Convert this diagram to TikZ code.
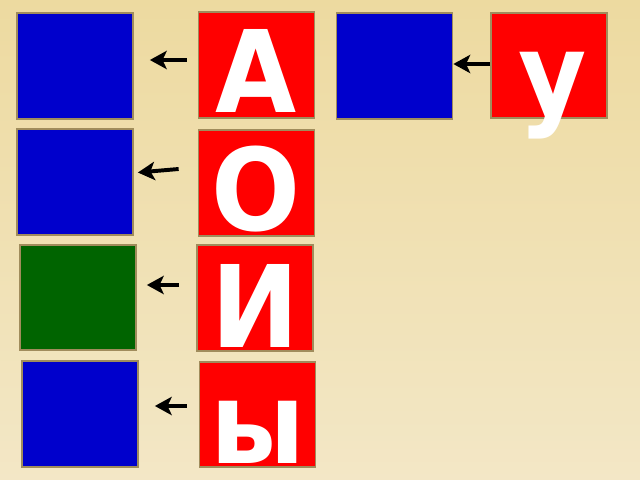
\documentclass[tikz,border=0pt]{standalone}
\usepackage{fontspec}
\newfontfamily\cyrfont{DejaVu Sans}[FakeStretch=0.92]
\usetikzlibrary{arrows.meta,calc}
\definecolor{bgtop}{RGB}{237,218,160}
\definecolor{bgbottom}{RGB}{243,231,198}
\definecolor{frame}{RGB}{160,140,92}
\definecolor{boxblue}{RGB}{0,0,204}
\definecolor{boxgreen}{RGB}{0,100,0}
\begin{document}
\begin{tikzpicture}[x=0.025cm, y=-0.025cm,
    card/.style={draw=frame, line width=1.2pt, minimum width=2.9cm, minimum height=2.64cm, inner sep=0pt},
    letter/.style={anchor=base, inner sep=0pt, text=white, font=\cyrfont\bfseries\fontsize{81}{81}\selectfont},
    arr/.style={-{Stealth[length=12pt,width=13pt,inset=3pt]}, line width=2.8pt}]
        \shade[top color=bgtop, bottom color=bgbottom] (0,0) rectangle (640,480);

        \node[card, fill=boxblue] (ba) at (75,66) {};
        \node[card, fill=red] (ra) at (256.5,65) {};
        \node[card, fill=boxblue] (bu) at (394.5,66) {};
        \node[card, fill=red] (ru) at (549,65.5) {};
        \node[card, fill=boxblue] (bo) at (75,182) {};
        \node[card, fill=red] (ro) at (256.5,183) {};
        \node[card, fill=boxgreen] (gi) at (78,297.5) {};
        \node[card, fill=red] (ri) at (255,298) {};
        \node[card, fill=boxblue] (by) at (80,414) {};
        \node[card, fill=red] (ry) at (257.5,414.5) {};

        \node[letter] (la) at ($(ra.south)+(0,-6)$) {А};
        \node[letter] (lu) at ($(ru.south)+(4,-5)$) {у};
        \node[letter] (lo) at ($(ro.south)+(0,-6)$) {О};
        \node[letter] (li) at ($(ri.south)+(0,-4)$) {И};
        \node[letter] (ly) at ($(ry.south)+(0,-5)$) {ы};

        \draw[arr] ($(ra.west)+(-11,-5)$) -- ($(ba.east)+(16,-6)$);
        \draw[arr] ($(ru.west)+(0,-1.5)$) -- ($(bu.east)+(0,-2)$);
        \draw[arr] ($(ro.west)+(-19,-14)$) -- ($(bo.east)+(4,-9.5)$);
        \draw[arr] ($(ri.west)+(-17,-13)$) -- ($(gi.east)+(10,-12.5)$);
        \draw[arr] ($(ry.west)+(-12,-8.5)$) -- ($(by.east)+(16,-8)$);
      \end{tikzpicture}
\end{document}
